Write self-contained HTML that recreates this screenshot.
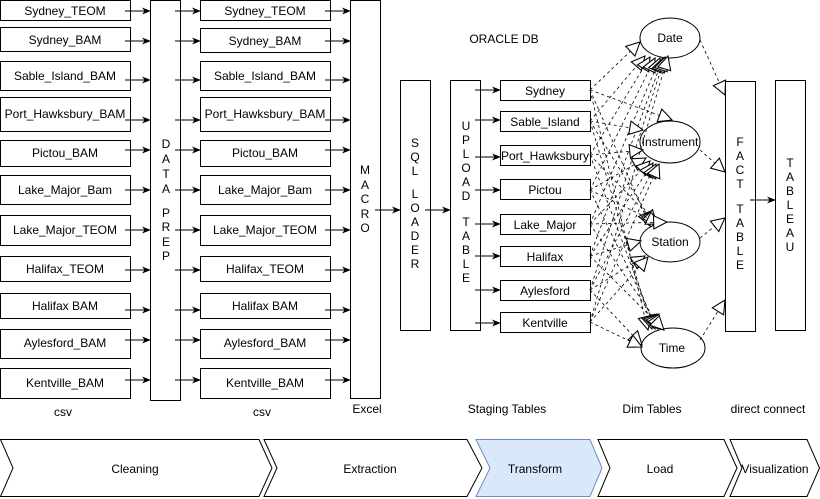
<!DOCTYPE html>
<html><head><meta charset="utf-8"><style>
html,body{margin:0;padding:0;background:#fff;}
svg{display:block;font-family:"Liberation Sans",Arial,sans-serif;}
</style></head><body>
<svg width="820" height="499" viewBox="0 0 820 499" xmlns="http://www.w3.org/2000/svg">
<defs>
<marker id="a" viewBox="0 0 10 10" refX="9" refY="5" markerWidth="9" markerHeight="9" orient="auto" markerUnits="userSpaceOnUse"><path d="M0,1 L10,5 L0,9 L3,5 Z" fill="#000"/></marker>
<marker id="o" viewBox="0 0 12 12" refX="11" refY="6" markerWidth="16" markerHeight="16" orient="auto" markerUnits="userSpaceOnUse"><path d="M1,1 L11,6 L1,11 Z" fill="#fff" stroke="#000" stroke-width="0.8"/></marker>
</defs>
<g fill="#fff" stroke="#000" stroke-width="1">
<rect x="0.5" y="0.5" width="130" height="20"/>
<rect x="0.5" y="27.5" width="130" height="24"/>
<rect x="0.5" y="61.5" width="130" height="29"/>
<rect x="0.5" y="97.5" width="130" height="34"/>
<rect x="0.5" y="140.5" width="130" height="26"/>
<rect x="0.5" y="175.5" width="130" height="29"/>
<rect x="0.5" y="215.5" width="130" height="30"/>
<rect x="0.5" y="256.5" width="130" height="25"/>
<rect x="0.5" y="293.5" width="130" height="25"/>
<rect x="0.5" y="329.5" width="130" height="29"/>
<rect x="0.5" y="368.5" width="130" height="30"/>
<rect x="200.5" y="0.5" width="130" height="20"/>
<rect x="200.5" y="28.5" width="130" height="24"/>
<rect x="200.5" y="61.5" width="130" height="29"/>
<rect x="200.5" y="97.5" width="130" height="34"/>
<rect x="200.5" y="140.5" width="130" height="26"/>
<rect x="200.5" y="175.5" width="130" height="29"/>
<rect x="200.5" y="215.5" width="130" height="30"/>
<rect x="200.5" y="256.5" width="130" height="25"/>
<rect x="200.5" y="293.5" width="130" height="25"/>
<rect x="200.5" y="329.5" width="130" height="29"/>
<rect x="200.5" y="368.5" width="130" height="30"/>
<rect x="150.5" y="0.5" width="30" height="400"/>
<rect x="350.5" y="0.5" width="30" height="398"/>
<rect x="400.5" y="80.5" width="30" height="250"/>
<rect x="450.5" y="80.5" width="30" height="250"/>
<rect x="500.5" y="80.5" width="90" height="20"/>
<rect x="500.5" y="111.5" width="90" height="20"/>
<rect x="500.5" y="145.5" width="90" height="20"/>
<rect x="500.5" y="179.5" width="90" height="20"/>
<rect x="500.5" y="214.5" width="90" height="20"/>
<rect x="500.5" y="246.5" width="90" height="20"/>
<rect x="500.5" y="280.5" width="90" height="20"/>
<rect x="500.5" y="312.5" width="90" height="20"/>
<rect x="725.5" y="81.5" width="30" height="250"/>
<rect x="775.5" y="80.5" width="30" height="250"/>
<ellipse cx="670" cy="38" rx="30" ry="20"/>
<ellipse cx="670" cy="142" rx="30" ry="21"/>
<ellipse cx="670" cy="242" rx="30" ry="20"/>
<ellipse cx="673" cy="348" rx="32" ry="20"/>
</g>
<g stroke="#000" stroke-width="1" marker-end="url(#a)">
<path d="M125 11H150"/><path d="M125 41H150"/><path d="M125 80H150"/><path d="M125 120H150"/><path d="M125 150H150"/><path d="M125 190H150"/><path d="M125 230H150"/><path d="M125 270H150"/><path d="M125 310H150"/><path d="M125 340H150"/><path d="M125 380H150"/>
<path d="M175 11H200"/><path d="M175 41H200"/><path d="M175 80H200"/><path d="M175 120H200"/><path d="M175 150H200"/><path d="M175 190H200"/><path d="M175 230H200"/><path d="M175 270H200"/><path d="M175 310H200"/><path d="M175 340H200"/><path d="M175 380H200"/>
<path d="M325 11H350"/><path d="M325 41H350"/><path d="M325 80H350"/><path d="M325 120H350"/><path d="M325 150H350"/><path d="M325 190H350"/><path d="M325 230H350"/><path d="M325 270H350"/><path d="M325 310H350"/><path d="M325 340H350"/><path d="M325 380H350"/>
<path d="M375 210H400"/><path d="M425 210H450"/>
<path d="M475 90H500"/><path d="M475 120H500"/><path d="M475 157H500"/><path d="M475 190H500"/><path d="M475 224H500"/><path d="M475 256H500"/><path d="M475 290H500"/><path d="M475 323H500"/>
<path d="M750 200H775"/>
</g>
<g stroke="#000" stroke-width="0.8" stroke-dasharray="3,3" fill="none" marker-end="url(#o)">
<path d="M590 90L640 42"/><path d="M590 121L645 56"/><path d="M590 155L650 57"/><path d="M590 190L655 58"/><path d="M590 224L660 58"/><path d="M590 256L663 58"/><path d="M590 290L665 57"/><path d="M590 322L668 56"/>
<path d="M590 90L672 120"/><path d="M590 121L643 130"/><path d="M590 155L643 150"/><path d="M590 190L646 158"/><path d="M590 224L650 161"/><path d="M590 256L653 163"/><path d="M590 290L656 164"/><path d="M590 322L659 164"/>
<path d="M590 90L650 226"/><path d="M590 121L654 225"/><path d="M590 155L657 224"/><path d="M590 190L660 224"/><path d="M590 224L667 222"/><path d="M590 256L641 241"/><path d="M590 290L645 256"/><path d="M590 322L648 257"/>
<path d="M590 90L648 330"/><path d="M590 121L652 329"/><path d="M590 155L655 329"/><path d="M590 190L658 329"/><path d="M590 224L661 329"/><path d="M590 256L664 330"/><path d="M590 290L642 345"/><path d="M590 322L642 347"/>
<path d="M700 40L725 95"/><path d="M700 150L725 172"/><path d="M700 238L725 218"/><path d="M700 340L725 300"/>
</g>
<g font-size="12" text-anchor="middle" fill="#000">
<text x="65" y="15">Sydney_TEOM</text><text x="65" y="44">Sydney_BAM</text><text x="65" y="80">Sable_Island_BAM</text><text x="65" y="118">Port_Hawksbury_BAM</text><text x="65" y="157">Pictou_BAM</text><text x="65" y="194">Lake_Major_Bam</text><text x="65" y="234">Lake_Major_TEOM</text><text x="65" y="273">Halifax_TEOM</text><text x="65" y="310">Halifax BAM</text><text x="65" y="347">Aylesford_BAM</text><text x="65" y="387">Kentville_BAM</text>
<text x="265" y="15">Sydney_TEOM</text><text x="265" y="45">Sydney_BAM</text><text x="265" y="80">Sable_Island_BAM</text><text x="265" y="118">Port_Hawksbury_BAM</text><text x="265" y="157">Pictou_BAM</text><text x="265" y="194">Lake_Major_Bam</text><text x="265" y="234">Lake_Major_TEOM</text><text x="265" y="273">Halifax_TEOM</text><text x="265" y="310">Halifax BAM</text><text x="265" y="347">Aylesford_BAM</text><text x="265" y="387">Kentville_BAM</text>
<text x="545" y="95">Sydney</text><text x="545" y="126">Sable_Island</text><text x="545" y="160">Port_Hawksbury</text><text x="545" y="194">Pictou</text><text x="545" y="229">Lake_Major</text><text x="545" y="261">Halifax</text><text x="545" y="295">Aylesford</text><text x="545" y="327">Kentville</text>
<text x="670" y="42">Date</text><text x="670" y="146">Instrument</text><text x="670" y="246">Station</text><text x="672" y="352">Time</text>
<text x="504" y="43">ORACLE DB</text>
<text x="63" y="416">csv</text><text x="262" y="416">csv</text><text x="367" y="413">Excel</text><text x="507" y="413">Staging Tables</text><text x="652" y="413">Dim Tables</text><text x="768" y="413">direct connect</text>
</g>
<g font-size="12" text-anchor="middle" fill="#000">
<text x="166" y="148">D</text><text x="166" y="163">A</text><text x="166" y="178">T</text><text x="166" y="193">A</text>
<text x="166" y="217">P</text><text x="166" y="231">R</text><text x="166" y="246">E</text><text x="166" y="260">P</text>
<text x="365" y="174">M</text><text x="365" y="189">A</text><text x="365" y="203">C</text><text x="365" y="218">R</text><text x="365" y="232">O</text>
<text x="415" y="147">S</text><text x="415" y="161">Q</text><text x="415" y="175">L</text><text x="415" y="198">L</text><text x="415" y="212">O</text><text x="415" y="226">A</text><text x="415" y="240">D</text><text x="415" y="254">E</text><text x="415" y="268">R</text>
<text x="466" y="130">U</text><text x="466" y="144">P</text><text x="466" y="158">L</text><text x="466" y="172">O</text><text x="466" y="186">A</text><text x="466" y="200">D</text><text x="466" y="226">T</text><text x="466" y="240">A</text><text x="466" y="254">B</text><text x="466" y="268">L</text><text x="466" y="282">E</text>
<text x="740" y="146">F</text><text x="740" y="160">A</text><text x="740" y="174">C</text><text x="740" y="188">T</text><text x="740" y="213">T</text><text x="740" y="227">A</text><text x="740" y="241">B</text><text x="740" y="255">L</text><text x="740" y="269">E</text>
<text x="790" y="167">T</text><text x="790" y="181">A</text><text x="790" y="195">B</text><text x="790" y="209">L</text><text x="790" y="223">E</text><text x="790" y="237">A</text><text x="790" y="251">U</text>
</g>
<g stroke="#000" stroke-width="1" fill="#fff">
<polygon points="0.5,439.5 259,439.5 272,468 259,496.5 0.5,496.5 13,468"/>
<polygon points="264,439.5 467,439.5 482,468 467,496.5 264,496.5 277,468"/>
<polygon points="476,439.5 590,439.5 602,468 590,496.5 476,496.5 490,468" fill="#dae8fc" stroke="#6c8ebf"/>
<polygon points="598,439.5 724,439.5 737,468 724,496.5 598,496.5 610,468"/>
<polygon points="730,439.5 807,439.5 819.5,468 807,496.5 730,496.5 742,468"/>
</g>
<g font-size="12" text-anchor="middle" fill="#000">
<text x="135" y="473">Cleaning</text><text x="370" y="473">Extraction</text><text x="535" y="473">Transform</text><text x="660" y="473">Load</text><text x="775" y="473">Visualization</text>
</g>
</svg>
</body></html>
